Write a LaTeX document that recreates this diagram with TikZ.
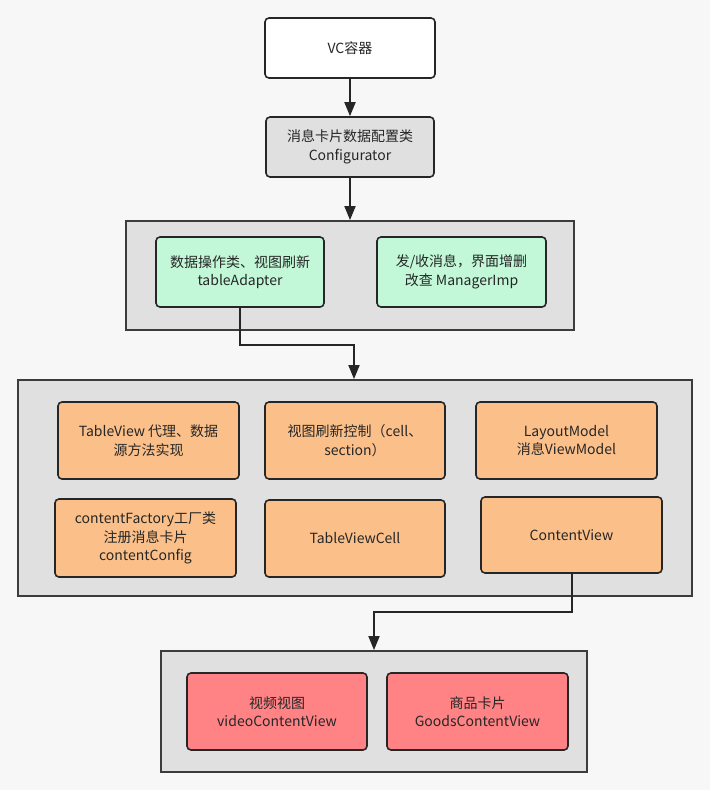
\documentclass[tikz,border=0pt]{standalone}
\usepackage{fontspec}
\setmainfont{Noto Sans CJK SC}
\usetikzlibrary{arrows.meta,positioning}
\definecolor{bgc}{HTML}{F7F7F7}
\definecolor{grp}{HTML}{E0E0E0}
\definecolor{grn}{HTML}{C2F8D8}
\definecolor{org}{HTML}{FBC08A}
\definecolor{rd}{HTML}{FF8285}
\definecolor{ln}{HTML}{262626}
\tikzset{
  grpbox/.style={draw=ln!90, line width=1.8pt, fill=grp, inner sep=0pt},
  cbox/.style={draw=ln, line width=1.6pt, rounded corners=4pt, inner sep=2pt, align=center,
    font=\fontsize{14}{18.5}\selectfont, text=ln},
  conn/.style={draw=ln, line width=1.8pt, -{Triangle[length=14pt,width=11pt]}},
  plain/.style={draw=ln, line width=1.8pt}
}
\newcommand{\boxat}[6]{% name, style, x1,y1,x2,y2 as text follows
  \node[#2, minimum width={#5-#3}, minimum height={#6-#4}] (#1) at ({(#3+#5)/2},{(#4+#6)/2})}
\begin{document}
\begin{tikzpicture}[x=1pt,y=-1pt]
\fill[bgc] (0,0) rectangle (710,790);
\useasboundingbox (0,0) rectangle (710,790);
% groups
\boxat{g1}{grpbox}{126}{221}{574}{330}{};
\boxat{g2}{grpbox}{18}{380}{692}{596}{};
\boxat{g3}{grpbox}{161}{651}{587}{772}{};
% top boxes
\boxat{vc}{cbox,fill=white}{265}{18}{435}{78}{VC容器};
\boxat{cfg}{cbox,fill=grp}{266}{117}{434}{177}{消息卡片数据配置类\\Configurator};
% green
\boxat{ta}{cbox,fill=grn}{156}{237}{324}{307}{数据操作类、视图刷新\\tableAdapter};
\boxat{mi}{cbox,fill=grn}{377}{237}{546}{307}{发/收消息，界面增删\\改查 ManagerImp};
% orange
\boxat{o1}{cbox,fill=org}{58}{402}{239}{479}{TableView 代理、数据\\源方法实现};
\boxat{o2}{cbox,fill=org}{265}{402}{445}{479}{视图刷新控制（cell、\\section）};
\boxat{o3}{cbox,fill=org}{476}{402}{657}{479}{LayoutModel\\消息ViewModel};
\boxat{o4}{cbox,fill=org}{55}{499}{236}{577}{contentFactory工厂类\\注册消息卡片\\contentConfig};
\boxat{o5}{cbox,fill=org}{265}{500}{445}{577}{TableViewCell};
\boxat{o6}{cbox,fill=org}{481}{497}{662}{573}{ContentView};
% red
\boxat{r1}{cbox,fill=rd}{187}{673}{367}{750}{视频视图\\videoContentView};
\boxat{r2}{cbox,fill=rd}{387}{673}{568}{750}{商品卡片\\GoodsContentView};
% connectors
\draw[conn] (vc.south) -- (cfg.north);
\draw[conn] (cfg.south) -- (g1.north -| cfg.south);
\coordinate (k1) at (240,345);
\coordinate (k2) at (354,345);
\draw[conn] (ta.south -| k1) -- (k1) -- (k2) -- (g2.north -| k2);
\coordinate (k3) at (572,612);
\coordinate (k4) at (374,612);
\draw[conn] (o6.south -| k3) -- (k3) -- (k4) -- (g3.north -| k4);
\end{tikzpicture}
\end{document}
